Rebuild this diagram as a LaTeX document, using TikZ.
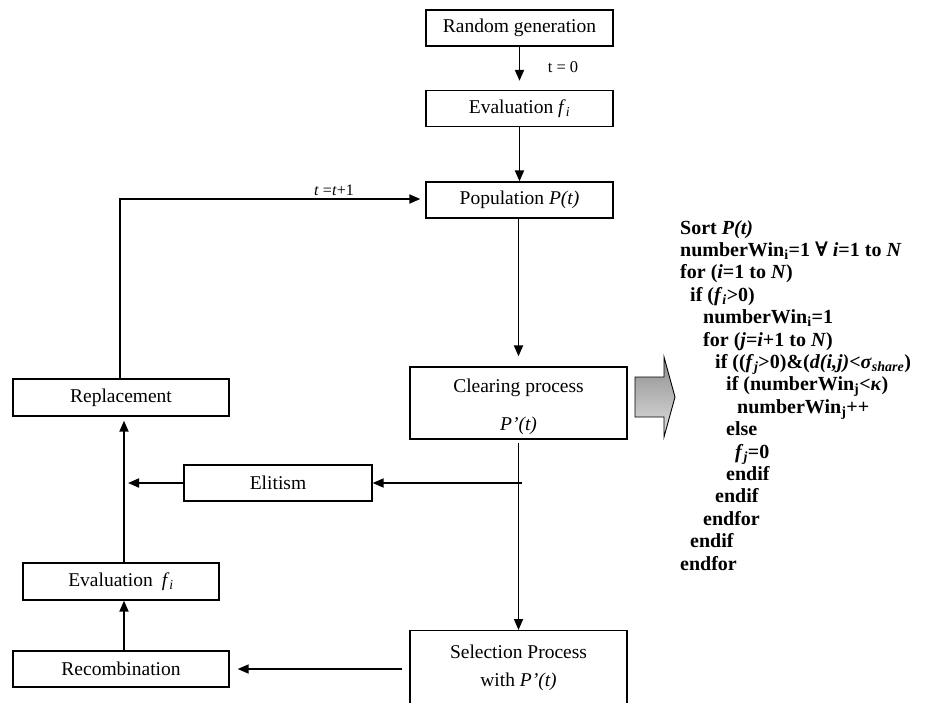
\documentclass[tikz,border=0pt]{standalone}
\usepackage{fontspec}
\setmainfont{Liberation Serif}
\newfontfamily\symfont{DejaVu Serif}
\usetikzlibrary{arrows.meta,calc}
\tikzset{
  box/.style={draw, line width=1.3pt, minimum height=36pt, inner sep=0pt,
    font=\fontsize{19.5}{23}\selectfont, align=center},
  txt/.style={inner sep=0pt, align=center},
  arr/.style={line width=1.8pt, -{Triangle[length=11pt,width=9pt]}},
  code/.style={anchor=base west, inner sep=0pt, font=\fontsize{20}{22}\selectfont\bfseries},
  lbl/.style={inner sep=0pt, font=\fontsize{16.5}{18}\selectfont},
}
\begin{document}
\begin{tikzpicture}[x=1pt,y=-1pt]
\useasboundingbox (0,0) rectangle (931,702);
\clip (0,0) rectangle (931,702);
% boxes
\node[box, minimum width=187pt] (rg) at (519.5,28) {Random generation};
\node[box, minimum width=187pt] (ev1) at (519.5,108.5) {Evaluation \textit{f}\textsubscript{\textit{i}}};
\node[box, minimum width=187pt] (pop) at (519.5,200) {Population \textit{P(t)}};
\node[box, minimum width=217pt, minimum height=72pt] (clr) at (518.5,403) {};
\node[txt, font=\fontsize{19.5}{38}\selectfont] (clrt) at (518.5,407) {Clearing process\\\textit{P’(t)}};
\node[box, minimum width=217pt, minimum height=74pt, font=\fontsize{19.5}{28}\selectfont, anchor=north] (sel) at (518.5,630) {Selection Process\\with \textit{P’(t)}};
\node[box, minimum width=216pt, minimum height=37pt] (rep) at (121,397.5) {Replacement};
\node[box, minimum width=188pt] (eli) at (278,483) {Elitism};
\node[box, minimum width=196pt, minimum height=37pt] (ev2) at (121,581.5) {Evaluation\hspace{9pt}\textit{f}\textsubscript{\textit{i}}};
\node[box, minimum width=216pt] (rec) at (121,669) {Recombination};
% labels
\node[lbl] (t0) at (563,67) {t = 0};
\node[lbl, font=\fontsize{16}{18}\selectfont] (t1) at (334,190) {\textit{t} =\textit{t}+1};
% helper coordinates
\coordinate (eb) at (522,483);
\coordinate (ej) at (128,483);
\coordinate (sw) at (402,669);
% connectors
\draw[arr] (rg.south) -- ($(ev1.north)+(0,-9)$);
\draw[arr] (ev1.south) -- (pop.north);
\draw[arr] ($(pop.south)+(-1,0)$) -- ($(clr.north)+(0,-10)$);
\draw[arr] ($(clr.south)+(0,3)$) -- (sel.north);
\draw[arr] (eb) -- (eli.east);
\draw[arr] (eli.west) -- (ej);
\draw[arr] ($(ev2.north)+(3,0)$) -- ($(rep.south)+(3,4)$);
\draw[arr] ($(rec.north)+(3,0)$) -- ($(ev2.south)+(3,0)$);
\draw[arr] (sw) -- ($(rec.east)+(8,0)$);
\draw[arr] ($(rep.north)+(-1,0)$) |- ($(pop.west)+(-5,-1)$);
% big gray arrow
\draw[line width=0.9pt, top color=black!45, bottom color=black!12]
  (635,377) -- (664,377) -- (664,357) -- (675,397) -- (664,437) -- (664,417) -- (635,417) -- cycle;
% pseudocode
\node[code] (c1) at (680,234) {Sort \textit{P(t)}};
\node[code] (c2) at (680,256.4) {numberWin\textsubscript{i}=1 {\symfont ∀} \textit{i}=1 to \textit{N}};
\node[code] (c3) at (680,278.8) {for (\textit{i}=1 to \textit{N})};
\node[code] (c4) at (690,301.2) {if (\textit{f}\textsubscript{\textit{i}}>0)};
\node[code] (c5) at (703,323.6) {numberWin\textsubscript{i}=1};
\node[code] (c6) at (703,346) {for (\textit{j}=\textit{i}+1 to \textit{N})};
\node[code] (c7) at (715,368.4) {if ((\textit{f}\textsubscript{\textit{j}}>0)\&(\textit{d(i,j)}<\textit{σ}\textsubscript{\textit{share}})};
\node[code] (c8) at (726,390.8) {if (numberWin\textsubscript{j}<\textit{κ})};
\node[code] (c9) at (737,413.2) {numberWin\textsubscript{j}++};
\node[code] (c10) at (726,435.6) {else};
\node[code] (c11) at (735,458) {\textit{f}\textsubscript{\textit{j}}=0};
\node[code] (c12) at (726,480.4) {endif};
\node[code] (c13) at (715,502.8) {endif};
\node[code] (c14) at (703,525.2) {endfor};
\node[code] (c15) at (690,547.6) {endif};
\node[code] (c16) at (680,570) {endfor};
\end{tikzpicture}
\end{document}
